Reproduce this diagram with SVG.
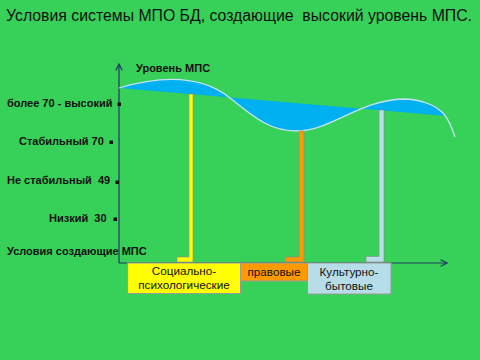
<svg xmlns="http://www.w3.org/2000/svg" width="480" height="360" viewBox="0 0 480 360">
<defs>
<style>
text{white-space:pre}
.t{font-family:"Liberation Sans",Arial,sans-serif;fill:#111}
.lbl{font-family:"Liberation Sans",Arial,sans-serif;font-weight:bold;font-size:11px;fill:#111}
.box{stroke:#9a9a9a;stroke-width:1}
.bx{font-family:"Liberation Sans",Arial,sans-serif;font-size:11.7px;fill:#111;text-anchor:middle}
.axis{stroke:#1f3864;stroke-width:1.2;fill:none}
.bul{fill:#111}
.bar{stroke:#8a8a8a;stroke-width:0.6}
</style>
<marker id="arr" viewBox="0 0 10 10" refX="9" refY="5" markerWidth="8" markerHeight="8" orient="auto" markerUnits="userSpaceOnUse">
<path d="M1,1 L9,5 L1,9" fill="none" stroke="#1f3864" stroke-width="1.5"/>
</marker>
</defs>
<rect width="480" height="360" fill="#37d058"/>
<text class="t" x="6" y="21" font-size="16" textLength="466" lengthAdjust="spacingAndGlyphs" xml:space="preserve">Условия системы МПО БД, создающие  высокий уровень МПС.</text>

<g id="axes">
<line class="axis" x1="119" y1="263" x2="119" y2="64" marker-end="url(#arr)"/>
<line class="axis" x1="119" y1="263" x2="447" y2="263" marker-end="url(#arr)"/>
</g>

<g id="y-labels">
<text class="lbl" x="136" y="72">Уровень МПС</text>
<text class="lbl" x="7" y="107">более 70 - высокий</text>
<rect class="bul" x="117.5" y="102.5" width="3.5" height="3.5"/>
<text class="lbl" x="19" y="145">Стабильный 70</text>
<rect class="bul" x="109.5" y="140.5" width="3.5" height="3.5"/>
<text class="lbl" x="7" y="184" xml:space="preserve">Не стабильный  49</text>
<rect class="bul" x="115.5" y="180.5" width="3.5" height="3.5"/>
<text class="lbl" x="49" y="222" xml:space="preserve">Низкий  30</text>
<rect class="bul" x="113.5" y="217.5" width="3.5" height="3.5"/>
<text class="lbl" x="7" y="255">Условия создающие МПС</text>
</g>

<g id="curve">
<path d="M119,88 C160,76 200,74 230,98 C255,118 270,131 297,131 C330,131 360,100 403,99 C420,99 435,105 443,113 C445,115 446,116 447,116 L119,88 Z" fill="#00b0f0"/>
<path d="M119,88 C160,76 200,74 230,98 C255,118 270,131 297,131 C330,131 360,100 403,99 C420,99 435,105 443,113 C448,118 452,128 455,137" fill="none" stroke="#c4e4f2" stroke-width="1.3"/>
</g>

<g id="connectors">
<path class="bar" d="M189,94 L193,94 L193,262 L177,262 L177,257 L189,257 Z" fill="#ffff00"/>
<path class="bar" d="M299,131 L304,131 L304,262 L285,262 L285,257 L299,257 Z" fill="#ff9900"/>
<path class="bar" d="M379,110 L384,110 L384,262 L366,262 L366,256.5 L379,256.5 Z" fill="#b7dee8"/>
</g>

<g id="node-social">
<rect class="box" x="127.5" y="263" width="113" height="30.5" fill="#ffff00"/>
<text class="bx" x="184" y="275">Социально-</text>
<text class="bx" x="184" y="289">психологические</text>
</g>
<g id="node-legal">
<rect class="box" x="240.5" y="263" width="67" height="18" fill="#ff9900"/>
<text class="bx" x="274" y="276">правовые</text>
</g>
<g id="node-cultural">
<rect class="box" x="307.5" y="263" width="83.5" height="31" fill="#b7dee8"/>
<text class="bx" x="349" y="276">Культурно-</text>
<text class="bx" x="349" y="290">бытовые</text>
</g>
</svg>
